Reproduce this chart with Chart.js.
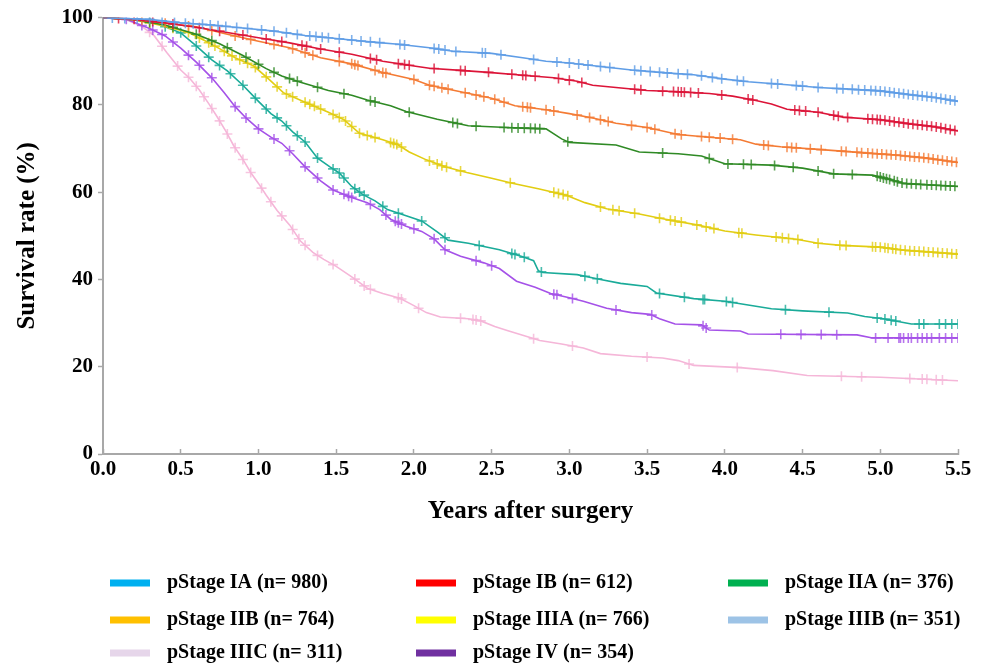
<!DOCTYPE html>
<html lang="en">
<head>
<meta charset="UTF-8">
<title>Survival by pStage</title>
<script src="https://cdn.jsdelivr.net/npm/chart.js"></script>
<style>
  html, body { margin: 0; padding: 0; background: #fff; }
</style>
</head>
<body>
<canvas id="kmChart" width="987" height="669"></canvas>
<script>
// Axis ticks
const xTicks = [0, 0.5, 1, 1.5, 2, 2.5, 3, 3.5, 4, 4.5, 5, 5.5];
const yTicks = [0, 20, 40, 60, 80, 100];

// Curve order (top to bottom at 5.5 years)
const curveNames = ['pStage IA', 'pStage IB', 'pStage IIA', 'pStage IIB', 'pStage IIIA', 'pStage IIIB', 'pStage IV', 'pStage IIIC'];
const curveColors = ['#5f9de6', '#dc1438', '#f47b34', '#2f8a25', '#e2cd12', '#1aab99', '#a552e8', '#f5b6d8'];

// Curves: times (years) and survival (%)
const tIA = [0, 0.3, 0.5, 0.7, 0.9, 1.1, 1.3, 1.5, 1.7, 1.9, 2.1, 2.25, 2.5, 2.7, 2.85, 3.0, 3.2, 3.4, 3.6, 3.8, 4.0, 4.15, 4.4, 4.6, 4.8, 5.0, 5.2, 5.35, 5.5];
const sIA = [100, 99.6, 98.8, 98.3, 97.6, 96.9, 95.9, 95.2, 94.5, 93.9, 93.1, 92.3, 91.8, 90.8, 90.0, 89.6, 88.8, 88.0, 87.4, 86.9, 85.9, 85.3, 84.6, 84.0, 83.6, 83.2, 82.3, 81.7, 80.8];

const tIB = [0, 0.2, 0.4, 0.6, 0.8, 1.0, 1.2, 1.4, 1.6, 1.8, 2.0, 2.1, 2.3, 2.5, 2.7, 2.9, 3.05, 3.15, 3.3, 3.5, 3.7, 3.9, 4.05, 4.2, 4.3, 4.4, 4.6, 4.76, 5.0, 5.2, 5.35, 5.5];
const sIB = [100, 99.6, 98.8, 97.8, 96.6, 95.4, 94.2, 92.8, 91.6, 90.0, 88.9, 88.4, 87.9, 87.4, 86.8, 86.2, 85.4, 84.5, 84.0, 83.3, 83.0, 82.6, 82.0, 81.0, 80.2, 79.0, 78.3, 77.2, 76.6, 75.6, 75.0, 74.0];

const tIIA = [0, 0.2, 0.4, 0.6, 0.8, 1.0, 1.2, 1.4, 1.6, 1.8, 2.0, 2.1, 2.3, 2.5, 2.65, 2.85, 3.0, 3.15, 3.3, 3.5, 3.7, 3.9, 4.1, 4.2, 4.36, 4.6, 4.9, 5.1, 5.3, 5.5];
const sIIA = [100, 99.6, 98.7, 97.9, 96.2, 94.6, 93.1, 90.8, 89.4, 87.4, 85.8, 84.5, 83.0, 81.5, 79.8, 78.9, 78.0, 77.0, 75.8, 74.8, 73.2, 72.6, 72.0, 71.0, 70.4, 69.8, 69.0, 68.5, 67.8, 66.8];

const tIIB = [0, 0.2, 0.4, 0.6, 0.75, 0.9, 1.05, 1.15, 1.27, 1.45, 1.6, 1.7, 1.85, 1.95, 2.15, 2.35, 2.6, 2.85, 2.95, 3.0, 3.3, 3.45, 3.7, 3.85, 4.0, 4.3, 4.5, 4.7, 4.95, 5.05, 5.15, 5.5];
const sIIB = [100, 99.5, 98.3, 96.2, 94.0, 91.3, 88.3, 86.6, 85.2, 83.3, 82.2, 81.1, 79.8, 78.5, 76.7, 75.2, 74.8, 74.5, 72.2, 71.4, 70.8, 69.2, 68.8, 68.3, 66.5, 66.2, 65.5, 64.2, 63.9, 63.0, 62.0, 61.3];

const tIIIA = [0, 0.2, 0.4, 0.55, 0.65, 0.75, 0.85, 0.97, 1.07, 1.16, 1.3, 1.45, 1.55, 1.65, 1.8, 1.9, 1.97, 2.08, 2.2, 2.34, 2.5, 2.64, 2.8, 2.98, 3.1, 3.24, 3.45, 3.6, 3.82, 4.0, 4.2, 4.46, 4.6, 4.75, 5.0, 5.15, 5.35, 5.5];
const sIIIA = [100, 99.5, 98.0, 96.6, 94.8, 92.9, 90.8, 88.9, 85.8, 82.8, 80.6, 78.3, 76.6, 73.5, 72.0, 70.8, 69.2, 67.4, 65.8, 64.5, 63.2, 62.0, 60.8, 59.3, 57.6, 56.2, 55.0, 53.9, 52.5, 51.1, 50.2, 49.2, 48.3, 47.8, 47.4, 46.7, 46.2, 45.8];

const tIIIB = [0, 0.2, 0.35, 0.5, 0.6, 0.7, 0.8, 0.9, 1.0, 1.08, 1.15, 1.22, 1.3, 1.38, 1.46, 1.52, 1.6, 1.67, 1.75, 1.83, 1.95, 2.05, 2.15, 2.22, 2.35, 2.55, 2.7, 2.77, 2.8, 2.83, 3.05, 3.2, 3.33, 3.5, 3.56, 3.8, 4.0, 4.14, 4.3, 4.5, 4.79, 4.9, 5.02, 5.2, 5.5];
const sIIIB = [100, 99.6, 98.6, 96.5, 93.5, 90.3, 87.8, 84.5, 80.8, 78.0, 76.3, 73.8, 71.5, 67.8, 65.8, 64.4, 61.3, 59.5, 58.0, 56.0, 54.6, 53.4, 50.9, 49.0, 48.3, 46.8, 45.2, 44.3, 42.0, 41.6, 41.1, 40.0, 39.1, 38.4, 36.9, 35.6, 35.0, 34.2, 33.3, 32.8, 32.3, 31.5, 31.0, 29.8, 29.8];

const tIV = [0, 0.15, 0.3, 0.4, 0.5, 0.6, 0.7, 0.78, 0.85, 0.92, 1.0, 1.08, 1.15, 1.22, 1.3, 1.4, 1.48, 1.6, 1.7, 1.78, 1.85, 1.95, 2.05, 2.13, 2.2, 2.3, 2.45, 2.55, 2.66, 2.78, 2.88, 3.0, 3.09, 3.24, 3.4, 3.52, 3.58, 3.68, 3.85, 3.9, 4.1, 4.15, 4.85, 4.95, 5.5];
const sIV = [100, 99.6, 97.5, 95.8, 93.0, 89.8, 86.2, 82.8, 79.6, 77.0, 74.5, 72.6, 71.2, 68.8, 65.8, 62.6, 60.5, 58.8, 57.6, 56.0, 53.8, 52.2, 51.0, 49.3, 46.8, 45.3, 43.8, 42.5, 39.6, 38.2, 36.8, 35.8, 35.0, 33.4, 32.4, 32.0, 31.0, 29.8, 29.6, 28.4, 28.2, 27.5, 27.3, 26.6, 26.6];

const tIIIC = [0, 0.15, 0.25, 0.33, 0.41, 0.5, 0.56, 0.62, 0.68, 0.73, 0.79, 0.84, 0.9, 0.95, 1.0, 1.05, 1.12, 1.2, 1.27, 1.35, 1.42, 1.5, 1.6, 1.7, 1.8, 1.91, 2.0, 2.08, 2.17, 2.35, 2.43, 2.52, 2.6, 2.7, 2.81, 2.95, 3.09, 3.2, 3.4, 3.6, 3.7, 3.8, 4.1, 4.31, 4.53, 5.0, 5.5];
const sIIIC = [100, 99.5, 98.0, 95.8, 92.0, 88.0, 86.0, 83.4, 80.3, 77.5, 74.0, 70.7, 67.5, 64.5, 62.0, 59.3, 55.8, 52.5, 48.8, 46.2, 44.6, 43.0, 40.6, 38.0, 36.8, 35.7, 34.0, 32.4, 31.4, 31.0, 30.5, 29.2, 28.3, 27.2, 26.0, 25.2, 24.3, 23.0, 22.4, 22.0, 21.4, 20.3, 19.8, 19.1, 18.0, 17.6, 16.8];

// Censoring times (years)
const cIA = [0.06, 0.14, 0.22, 0.3, 0.38, 0.46, 0.53, 0.58, 0.64, 0.69, 0.74, 0.79, 0.86, 0.93, 1.02, 1.1, 1.18, 1.25, 1.33, 1.37, 1.41, 1.45, 1.52, 1.6, 1.66, 1.72, 1.78, 1.91, 1.94, 2.13, 2.16, 2.2, 2.27, 2.44, 2.46, 2.56, 2.77, 2.92, 3.0, 3.06, 3.12, 3.2, 3.26, 3.42, 3.46, 3.52, 3.58, 3.63, 3.7, 3.76, 3.85, 3.92, 3.98, 4.08, 4.12, 4.3, 4.34, 4.46, 4.5, 4.6, 4.72, 4.76, 4.82, 4.86, 4.9, 4.94, 4.97, 5.0, 5.03, 5.06, 5.09, 5.12, 5.15, 5.18, 5.21, 5.24, 5.27, 5.3, 5.33, 5.36, 5.39, 5.42, 5.45, 5.48];
const cIB = [0.1, 0.2, 0.32, 0.45, 0.62, 0.75, 0.9, 1.05, 1.15, 1.28, 1.31, 1.4, 1.52, 1.72, 1.76, 1.9, 1.94, 1.97, 2.13, 2.3, 2.33, 2.48, 2.63, 2.7, 2.72, 2.78, 2.93, 3.0, 3.08, 3.42, 3.46, 3.6, 3.67, 3.7, 3.72, 3.74, 3.78, 3.83, 3.98, 4.15, 4.18, 4.45, 4.48, 4.52, 4.6, 4.7, 4.73, 4.79, 4.92, 4.95, 4.98, 5.0, 5.03, 5.06, 5.09, 5.12, 5.15, 5.18, 5.21, 5.24, 5.27, 5.3, 5.33, 5.36, 5.39, 5.42, 5.45, 5.48];
const cIIA = [0.25, 0.4, 0.55, 0.7, 0.85, 0.95, 1.1, 1.22, 1.3, 1.35, 1.52, 1.6, 1.62, 1.64, 1.75, 1.8, 1.82, 2.0, 2.1, 2.13, 2.18, 2.22, 2.33, 2.4, 2.45, 2.52, 2.58, 2.7, 2.73, 2.75, 2.85, 2.9, 3.05, 3.13, 3.2, 3.25, 3.4, 3.5, 3.55, 3.68, 3.72, 3.85, 3.9, 3.97, 4.05, 4.25, 4.28, 4.4, 4.43, 4.46, 4.55, 4.62, 4.75, 4.78, 4.85, 4.88, 4.92, 4.95, 4.98, 5.01, 5.04, 5.07, 5.1, 5.13, 5.16, 5.19, 5.22, 5.25, 5.28, 5.31, 5.34, 5.37, 5.4, 5.43, 5.46, 5.49];
const cIIB = [0.3, 0.45, 0.6, 0.7, 0.8, 0.92, 1.0, 1.1, 1.2, 1.25, 1.38, 1.55, 1.72, 1.75, 1.97, 2.25, 2.28, 2.4, 2.58, 2.63, 2.67, 2.71, 2.75, 2.78, 2.81, 2.99, 3.6, 3.9, 4.02, 4.12, 4.17, 4.32, 4.44, 4.6, 4.7, 4.82, 4.98, 5.0, 5.02, 5.04, 5.06, 5.09, 5.11, 5.14, 5.17, 5.2, 5.23, 5.26, 5.3, 5.33, 5.36, 5.39, 5.42, 5.45, 5.48];
const cIIIA = [0.3, 0.45, 0.55, 0.62, 0.68, 0.72, 0.78, 0.83, 0.88, 0.93, 0.98, 1.05, 1.12, 1.18, 1.22, 1.3, 1.33, 1.36, 1.4, 1.48, 1.52, 1.56, 1.6, 1.65, 1.7, 1.75, 1.85, 1.87, 1.89, 1.92, 2.1, 2.15, 2.18, 2.21, 2.3, 2.62, 2.9, 2.93, 2.96, 2.99, 3.2, 3.28, 3.32, 3.42, 3.58, 3.65, 3.68, 3.72, 3.82, 3.88, 3.93, 4.09, 4.11, 4.33, 4.37, 4.41, 4.47, 4.6, 4.74, 4.78, 4.95, 4.97, 5.0, 5.03, 5.05, 5.08, 5.1, 5.13, 5.16, 5.19, 5.22, 5.25, 5.28, 5.31, 5.34, 5.37, 5.4, 5.43, 5.46, 5.49];
const cIIIB = [0.4, 0.5, 0.6, 0.68, 0.75, 0.82, 0.9, 0.98, 1.05, 1.12, 1.18, 1.25, 1.3, 1.38, 1.48, 1.52, 1.55, 1.62, 1.65, 1.68, 1.8, 1.9, 2.05, 2.2, 2.42, 2.63, 2.65, 2.71, 2.82, 3.1, 3.18, 3.58, 3.74, 3.86, 3.87, 4.01, 4.05, 4.39, 4.67, 4.98, 5.03, 5.07, 5.1, 5.25, 5.28, 5.38, 5.42, 5.46, 5.5];
const cIV = [0.15, 0.25, 0.32, 0.38, 0.45, 0.55, 0.62, 0.7, 0.85, 0.92, 1.0, 1.1, 1.2, 1.3, 1.38, 1.48, 1.55, 1.58, 1.6, 1.72, 1.82, 1.88, 1.9, 1.92, 2.0, 2.13, 2.2, 2.4, 2.5, 2.9, 2.92, 3.02, 3.3, 3.53, 3.86, 3.88, 4.36, 4.49, 4.62, 4.72, 4.97, 5.05, 5.12, 5.13, 5.15, 5.18, 5.2, 5.24, 5.27, 5.3, 5.33, 5.38, 5.42, 5.46, 5.5];
const cIIIC = [0.3, 0.38, 0.48, 0.55, 0.6, 0.65, 0.7, 0.75, 0.8, 0.85, 0.9, 0.95, 1.02, 1.08, 1.15, 1.22, 1.26, 1.3, 1.38, 1.48, 1.62, 1.68, 1.72, 1.9, 1.92, 2.03, 2.3, 2.38, 2.4, 2.43, 2.77, 3.02, 3.5, 3.77, 4.08, 4.75, 4.88, 5.19, 5.27, 5.3, 5.36, 5.4];

// Legend (as printed under the chart)
const legendLabels = [
  'pStage IA (n= 980)', 'pStage IB (n= 612)', 'pStage IIA (n= 376)',
  'pStage IIB (n= 764)', 'pStage IIIA (n= 766)', 'pStage IIIB (n= 351)',
  'pStage IIIC (n= 311)', 'pStage IV (n= 354)'
];
const legendColors = ['#00b0f0', '#ff0000', '#00b050', '#ffc000', '#ffff00', '#9dc3e6', '#e6d6ea', '#7030a0'];

const curveTimes = [tIA, tIB, tIIA, tIIB, tIIIA, tIIIB, tIV, tIIIC];
const curveSurv = [sIA, sIB, sIIA, sIIB, sIIIA, sIIIB, sIV, sIIIC];
const censorTimes = [cIA, cIB, cIIA, cIIB, cIIIA, cIIIB, cIV, cIIIC];

// height of the drawn curve at time t, so the censor ticks sit on the line
function curveAt(ts, ss, t) {
  for (let i = 0; i < ts.length - 1; i++) {
    if (t <= ts[i + 1]) return ss[i] + (ss[i + 1] - ss[i]) * (t - ts[i]) / (ts[i + 1] - ts[i]);
  }
  return ss[ss.length - 1];
}

const datasets = [];
curveNames.forEach((name, i) => {
  datasets.push({
    label: name,
    data: curveTimes[i].map((t, k) => ({ x: t, y: curveSurv[i][k] })),
    borderColor: curveColors[i],
    borderWidth: 1.6,
    pointRadius: 0,
    tension: 0,
    fill: false,
    order: i
  });
  datasets.push({
    label: name + ' censored',
    type: 'scatter',
    data: censorTimes[i].map(t => ({ x: t, y: curveAt(curveTimes[i], curveSurv[i], t) })),
    borderColor: curveColors[i] + 'cc',
    backgroundColor: curveColors[i],
    pointStyle: 'cross',
    pointRadius: 5,
    borderWidth: 1.6,
    showLine: false,
    order: i
  });
});

// legend drawn in three columns below the plot
const gridLegend = {
  id: 'gridLegend',
  afterDraw(chart) {
    const ctx = chart.ctx;
    const colX = [110, 416, 728];
    const rowY = [583, 620, 653];
    ctx.save();
    ctx.font = 'bold 20px "Liberation Serif", "Times New Roman", serif';
    ctx.textBaseline = 'middle';
    legendLabels.forEach((txt, i) => {
      const x = colX[i % 3], y = rowY[Math.floor(i / 3)];
      ctx.fillStyle = legendColors[i];
      ctx.fillRect(x, y - 3.5, 40, 7);
      ctx.fillStyle = '#000';
      ctx.fillText(txt, x + 57, y);
    });
    ctx.restore();
  }
};

const tickFont = { family: '"Liberation Serif", "Times New Roman", serif', size: 21, weight: 'bold' };
const titleFont = { family: '"Liberation Serif", "Times New Roman", serif', size: 25, weight: 'bold' };

new Chart(document.getElementById('kmChart'), {
  type: 'line',
  data: { datasets: datasets },
  plugins: [gridLegend],
  options: {
    responsive: false,
    animation: false,
    layout: { padding: { top: 14, right: 29, bottom: 141, left: 0 } },
    plugins: { legend: { display: false }, tooltip: { enabled: false } },
    scales: {
      x: {
        type: 'linear',
        min: 0,
        max: 5.5,
        afterBuildTicks: s => { s.ticks = xTicks.map(v => ({ value: v })); },
        afterFit: s => { s.height = 74; },
        ticks: { font: tickFont, color: '#000', padding: 8, maxRotation: 0, callback: v => Number(v).toFixed(1) },
        grid: { drawOnChartArea: false, drawTicks: true, tickLength: -5, tickColor: '#a8a8a8', tickWidth: 1.5 },
        border: { color: '#a8a8a8', width: 2 },
        title: { display: true, text: 'Years after surgery', font: titleFont, color: '#000', padding: { top: 2, bottom: 1 } }
      },
      y: {
        min: 0,
        max: 100,
        afterBuildTicks: s => { s.ticks = yTicks.map(v => ({ value: v })); },
        afterFit: s => { s.width = 103; },
        ticks: { font: tickFont, color: '#000', padding: 5 },
        grid: { drawOnChartArea: false, drawTicks: true, tickLength: 5, tickColor: '#a8a8a8', tickWidth: 1.5 },
        border: { color: '#a8a8a8', width: 2 },
        title: { display: true, text: 'Survival rate (%)', font: titleFont, color: '#000', padding: { top: 13, bottom: 0 } }
      }
    }
  }
});
</script>
</body>
</html>
